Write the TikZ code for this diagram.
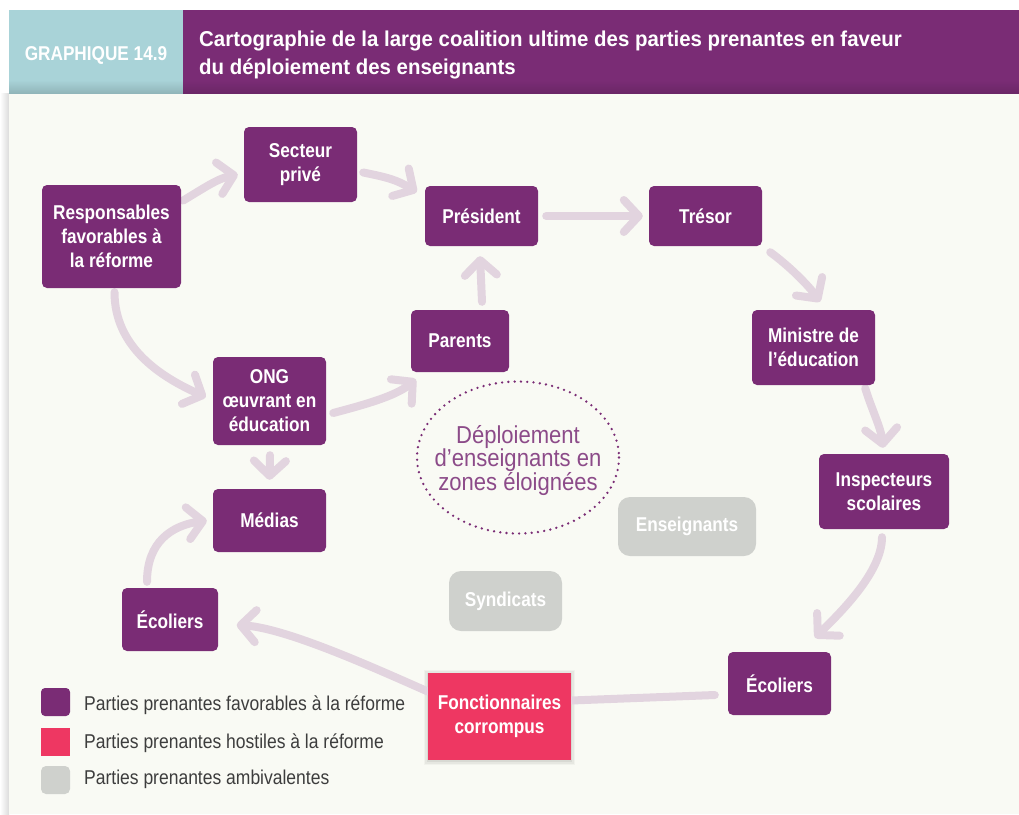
\documentclass[tikz,border=0pt]{standalone}
\usepackage{fontspec}
\setmainfont{Liberation Sans}
\newfontfamily\boxfont[FakeStretch=0.86]{Liberation Sans}
\newfontfamily\headfont[FakeStretch=0.95]{Liberation Sans}
\newfontfamily\plainfont[FakeStretch=0.875]{Liberation Sans}
\newfontfamily\goalfont[FakeStretch=0.9]{Liberation Sans}
\usetikzlibrary{arrows.meta}

\definecolor{plum}{HTML}{7A2C75}
\definecolor{hostile}{HTML}{EE3762}
\definecolor{ambi}{HTML}{CFD1CD}
\definecolor{paper}{HTML}{F9FAF4}
\definecolor{sky}{HTML}{A9D3D8}
\definecolor{linkc}{HTML}{E2D4DF}
\definecolor{softplum}{HTML}{8C4B89}
\definecolor{legendtext}{HTML}{3D3D3D}

\pgfdeclarelayer{backdrop}
\pgfdeclarelayer{links}
\pgfsetlayers{backdrop,links,main}

\begin{document}
\begin{tikzpicture}[x=1pt,y=-1pt,
  actor/.style={fill=plum, rounded corners=5pt, text=white, align=center, inner sep=0pt,
    font=\boxfont\bfseries\fontsize{20}{24}\selectfont},
  rival/.style={actor, fill=hostile, rounded corners=0pt},
  ambibox/.style={actor, fill=ambi, rounded corners=12pt},
  link/.style={draw=linkc, line width=8pt, line cap=round,
    -{Straight Barb[length=15pt,width=32pt,round]}},
  plainlink/.style={draw=linkc, line width=8pt, line cap=round},
  legendlabel/.style={anchor=base west, inner sep=0pt, text=legendtext,
    font=\plainfont\fontsize{20}{24}\selectfont},
]
\useasboundingbox (0,0) rectangle (1019,814);

% page, panel and header band
\begin{pgfonlayer}{backdrop}
  \fill[white] (0,0) rectangle (1019,814);
  \shade[left color=white, right color=black!14] (0,93) rectangle (9,814);
  \fill[paper] (9,93) rectangle (1019,814);
  \fill[sky] (9,10) rectangle (183,93);
  \shade[top color=sky, bottom color=sky!86!black] (9,80) rectangle (183,93);
  \fill[plum] (183,10) rectangle (1019,93);
  \shade[top color=plum, bottom color=plum!88!black] (183,80) rectangle (1019,93);
\end{pgfonlayer}

\node[anchor=base, inner sep=0pt, text=white, font=\boxfont\bfseries\fontsize{20}{24}\selectfont]
  (tag) at (96,60) {GRAPHIQUE 14.9};
\node[anchor=north west, inner sep=0pt, text=white, align=left,
  font=\headfont\bfseries\fontsize{21.5}{28}\selectfont]
  (title) at (199,31) {Cartographie de la large coalition ultime des parties prenantes en faveur\\du déploiement des enseignants};

% stakeholders
\node[actor, minimum width=139pt, minimum height=103pt] (resp) at (111.5,236.5) {Responsables\\favorables à\\la réforme};
\node[actor, minimum width=113pt, minimum height=75pt] (sect) at (300.5,164.5) {Secteur\\privé};
\node[actor, minimum width=113pt, minimum height=60pt] (pres) at (481.5,216) {Président};
\node[actor, minimum width=113pt, minimum height=60pt] (tres) at (705.5,216) {Trésor};
\node[actor, minimum width=123pt, minimum height=75pt] (mini) at (813.5,347.5) {Ministre de\\l’éducation};
\node[actor, minimum width=130pt, minimum height=75pt] (insp) at (884,491.5) {Inspecteurs\\scolaires};
\node[actor, minimum width=103pt, minimum height=63pt] (ecr) at (779.5,683.5) {Écoliers};
\node[rival, minimum width=143pt, minimum height=87pt] (fonc) at (499.5,716.5) {Fonctionnaires\\corrompus};
\node[actor, minimum width=96pt, minimum height=63pt] (ecl) at (170,619.5) {Écoliers};
\node[actor, minimum width=113pt, minimum height=63pt] (medi) at (269.5,520.5) {Médias};
\node[actor, minimum width=113pt, minimum height=88pt] (ong) at (269.5,401) {ONG\\œuvrant en\\éducation};
\node[actor, minimum width=98pt, minimum height=62pt] (pare) at (460,341) {Parents};
\node[ambibox, minimum width=138pt, minimum height=59pt] (ens) at (687,526.5) {Enseignants};
\node[ambibox, minimum width=113pt, minimum height=60pt] (synd) at (505.5,601) {Syndicats};

% goal in the middle, inside a dotted ellipse
\node[inner sep=0pt, text=softplum, align=center, font=\goalfont\fontsize{24.5}{23.5}\selectfont]
  (goal) at (518,460.5) {Déploiement\\d’enseignants en\\zones éloignées};
\draw[plum, line width=2.6pt, dash pattern=on 0pt off 6.3pt, line cap=round]
  ([yshift=3pt]goal.center) ellipse [x radius=101, y radius=76];

% influence links, and a soft shadow under the hostile box
\begin{pgfonlayer}{links}
  \foreach \g/\o in {4/0.03,2.5/0.045,1.2/0.06}
    \fill[black, opacity=\o] ([shift={(-\g,-\g+1)}]fonc.north west) rectangle ([shift={(\g,\g+1)}]fonc.south east);
  \draw[link] ([shift={(2,-36)}]resp.east) .. controls +(20,-12) and +(-20,4) .. ([shift={(-6,10)}]sect.west);
  \draw[link] ([shift={(6,8)}]sect.east) .. controls +(25,5) and +(-20,-12) .. ([shift={(-8,-24)}]pres.west);
  \draw[link] ([xshift=8pt]pres.east) -- ([xshift=-6pt]tres.west);
  \draw[link] ([shift={(8,6)}]tres.south east) .. controls +(18,13) and +(-12,-17) .. ([shift={(6.5,-8)}]mini.north);
  \draw[link] ([shift={(-10,3)}]mini.south east) .. controls +(6,20) and +(-2,-20) .. ([shift={(-1,-6)}]insp.north);
  \draw[link] ([shift={(-2,8)}]insp.south) .. controls +(0,35) and +(25,-25) .. ([shift={(35.5,-14)}]ecr.north);
  \draw[plainlink] ([shift={(-13,11.5)}]ecr.west) -- ([shift={(0,-16)}]fonc.east);
  \draw[link] ([shift={(0,-25)}]fonc.west) .. controls +(-50,-22) and +(50,3) .. ([shift={(18.5,5.5)}]ecl.east);
  \draw[link] ([shift={(-23,-6)}]ecl.north) .. controls +(0,-40) and +(-35,5) .. ([xshift=-6pt]medi.west);
  \draw[link] ([shift={(3,4)}]resp.south) .. controls +(0,55) and +(-45,-20) .. ([shift={(-7,-4)}]ong.west);
  \draw[link] ([shift={(0.5,10)}]ong.south) -- ([shift={(0,-9)}]medi.north);
  \draw[link] ([shift={(7,12)}]ong.east) .. controls +(30,-8) and +(-20,17) .. ([shift={(5,7)}]pare.south west);
  \draw[link] ([shift={(22,-8)}]pare.north) -- ([shift={(-1.5,10)}]pres.south);
\end{pgfonlayer}

% legend
\fill[plum, rounded corners=4pt] (41,688) rectangle (70,716);
\fill[hostile] (41,728) rectangle (70,756);
\fill[ambi, rounded corners=5pt] (41,766) rectangle (70,794);
\node[legendlabel] (legfav) at (84,710) {Parties prenantes favorables à la réforme};
\node[legendlabel] (leghos) at (84,748) {Parties prenantes hostiles à la réforme};
\node[legendlabel] (legamb) at (84,784) {Parties prenantes ambivalentes};
\end{tikzpicture}
\end{document}
